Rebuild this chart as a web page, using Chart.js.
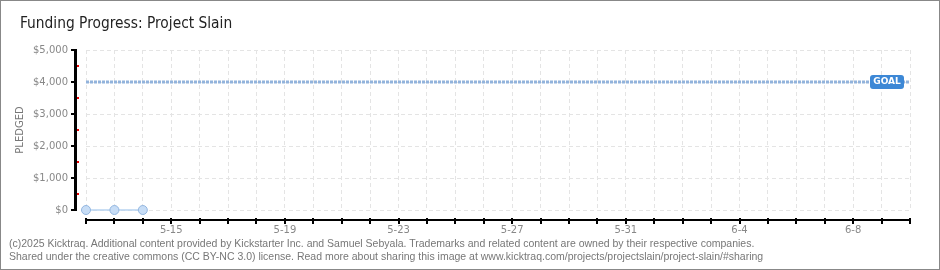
<!DOCTYPE html>
<html>
<head>
<meta charset="utf-8">
<script src="https://cdn.jsdelivr.net/npm/chart.js@4.4.0/dist/chart.umd.min.js"></script>
<style>
  body { margin: 0; background: #fff; }
  #box { position: relative; width: 940px; height: 270px; border: 1px solid #888; box-sizing: border-box; overflow: hidden; }
  #title { position: absolute; left: 19px; top: 12px; font: 16.5px "DejaVu Sans Condensed", sans-serif; color: #222; transform: scaleX(0.93); transform-origin: left top; white-space: nowrap; }
  #foot { position: absolute; left: 8px; top: 236px; font: 10.5px "Liberation Sans", sans-serif; color: #777; line-height: 13px; white-space: nowrap; }
  #chart { position: absolute; left: 0; top: 0; }
</style>
</head>
<body>
<div id="box">
  <canvas id="chart" width="938" height="268"></canvas>
  <div id="title">Funding Progress: Project Slain</div>
  <div id="foot">(c)2025 Kicktraq. Additional content provided by Kickstarter Inc. and Samuel Sebyala. Trademarks and related content are owned by their respective companies.<br>Shared under the creative commons (CC BY-NC 3.0) license. Read more about sharing this image at www.kicktraq.com/projects/projectslain/project-slain/#sharing</div>
</div>
<script>
// dias da campanha
const days = ['5-12','5-13','5-14','5-15','5-16','5-17','5-18','5-19','5-20','5-21',
              '5-22','5-23','5-24','5-25','5-26','5-27','5-28','5-29','5-30','5-31',
              '6-1','6-2','6-3','6-4','6-5','6-6','6-7','6-8','6-9','6-10']
const pledged = [0, 0, 0]
const goal = 4000
const yTicks = [0, 1000, 2000, 3000, 4000, 5000]
const yMinor = [500, 1500, 2500, 3500, 4500]

const axesPlugin = {
  id: 'axes',
  afterDraw(chart) {
    const ctx = chart.ctx
    const a = chart.chartArea
    const xs = chart.scales.x, ys = chart.scales.y
    ctx.save()
    ctx.setLineDash([])

    // eixo x
    const ay = Math.round(a.bottom + 9)
    ctx.fillStyle = '#000'
    ctx.fillRect(a.left - 1, ay, a.right - a.left + 2, 2)
    days.forEach((d, i) => {
      const px = Math.round(xs.getPixelForTick(i))
      ctx.fillRect(px - 1, ay - 1, 2, 6)
    })

    // eixo y
    const ax = Math.round(a.left) - 11
    const top = Math.round(ys.getPixelForValue(5000))
    const bot = Math.round(ys.getPixelForValue(0))
    ctx.fillStyle = '#000'
    ctx.fillRect(ax - 1, top - 1, 3, bot - top + 2)
    for (const v of yTicks) {
      const py = Math.round(ys.getPixelForValue(v))
      ctx.fillRect(ax - 4, py - 1, 6, 2)
    }
    ctx.fillStyle = '#e00'
    for (const v of yMinor) {
      const py = Math.round(ys.getPixelForValue(v))
      ctx.fillRect(ax + 2, py - 1, 2, 2)
    }

    // etiqueta GOAL
    const gy = ys.getPixelForValue(goal)
    const w = 34, h = 14
    const gx = a.right - 6 - w
    ctx.fillStyle = '#3d88d6'
    ctx.beginPath()
    ctx.roundRect(gx, gy - h / 2, w, h, 3)
    ctx.fill()
    ctx.fillStyle = '#fff'
    ctx.font = 'bold 9px "DejaVu Sans", sans-serif'
    ctx.textAlign = 'center'
    ctx.textBaseline = 'middle'
    ctx.fillText('GOAL', gx + w / 2, gy)
    ctx.restore()
  }
}

new Chart(document.querySelector('#chart').getContext('2d'), {
  type: 'line',
  data: {
    labels: days,
    datasets: [
      {
        label: 'Pledged',
        data: pledged,
        borderColor: '#b7d3f1',
        borderWidth: 1.5,
        backgroundColor: '#c7ddf6',
        pointBorderColor: '#93b6e0',
        pointBorderWidth: 1,
        pointRadius: 4.5,
        tension: 0,
        clip: false
      },
      {
        label: 'Goal',
        data: [{x: days[0], y: goal}, {x: days[days.length - 1], y: goal}],
        borderColor: '#92b3dc',
        borderWidth: 3,
        borderDash: [3, 1],
        pointRadius: 0
      }
    ]
  },
  options: {
    responsive: false,
    animation: false,
    layout: { padding: { top: 49, right: 29, bottom: 0, left: 0 } },
    plugins: { legend: { display: false }, tooltip: { enabled: false } },
    scales: {
      x: {
        afterFit: s => { s.height = 59 },
        grid: { color: '#e4e4e4', drawTicks: false },
        border: { display: false, dash: [4, 3] },
        ticks: {
          autoSkip: false, maxRotation: 0, padding: 14,
          color: '#888', font: { family: 'DejaVu Sans', size: 10 },
          callback: (v, i) => (i - 3) % 4 === 0 ? days[i] : ''
        }
      },
      y: {
        min: 0, max: 5000,
        afterFit: s => { s.width = 85 },
        grid: { color: '#e4e4e4', drawTicks: false },
        border: { display: false, dash: [4, 3] },
        ticks: {
          stepSize: 1000, padding: 18,
          color: '#888', font: { family: 'DejaVu Sans', size: 10 },
          callback: v => '$' + v.toLocaleString('en-US')
        },
        title: {
          display: true, text: 'PLEDGED', color: '#777',
          font: { family: 'DejaVu Sans', size: 10 },
          padding: { top: 13, bottom: 0 }
        }
      }
    }
  },
  plugins: [axesPlugin]
})
</script>
</body>
</html>
